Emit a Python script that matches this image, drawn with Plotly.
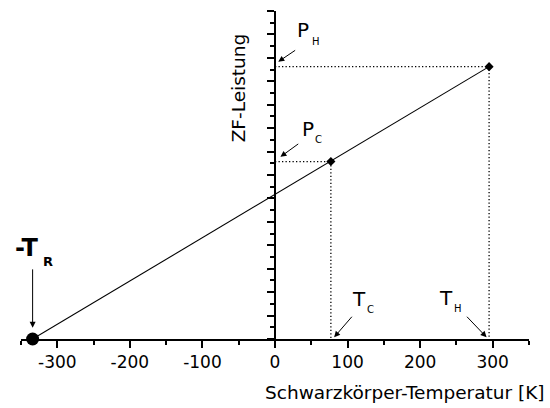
import plotly.graph_objects as go

# ---------------- data ----------------
T_R = 334          # receiver noise temperature (K) -> intercept at -T_R
T_C = 77           # cold load temperature (K)
T_H = 295          # hot load temperature (K)
P_C = 15.15        # IF power at cold load (arb. units)
P_H = 23.25        # IF power at hot load (arb. units)

line_x = [-T_R, T_C, T_H]
line_y = [0, P_C, P_H]

x_tick_values = [-300, -200, -100, 0, 100, 200, 300]
x_tick_labels = ["-300", "-200", "-100", "0", "100", "200", "300"]

x_title = "Schwarzkörper-Temperatur [K]"
y_title = "ZF-Leistung"

# ---------------- layout helpers ----------------
L, R, T, B = 21, 21, 11, 68.7
W, H = 550, 408
PW, PH = W - L - R, H - T - B
FONT = "DejaVu Sans"


def px(xp):
    return (xp - L) / PW


def py(yp):
    return (H - B - yp) / PH


fig = go.Figure()

dot = dict(color="black", width=1.3, dash="1.3px,2.2px")
# dotted guide lines
for tx, pv in [(T_C, P_C), (T_H, P_H)]:
    fig.add_trace(go.Scatter(x=[0, tx, tx], y=[pv, pv, 0], mode="lines",
                             line=dot, hoverinfo="skip", showlegend=False,
                             cliponaxis=False))

# main line
fig.add_trace(go.Scatter(x=line_x, y=line_y, mode="lines",
                         line=dict(color="black", width=1.1),
                         showlegend=False, cliponaxis=False))
# diamonds
fig.add_trace(go.Scatter(x=line_x[1:], y=line_y[1:], mode="markers",
                         marker=dict(symbol="diamond", size=7, color="black"),
                         showlegend=False, cliponaxis=False))
# -T_R point
fig.add_trace(go.Scatter(x=[line_x[0]], y=[line_y[0]], mode="markers",
                         marker=dict(symbol="circle", size=13, color="black"),
                         showlegend=False, cliponaxis=False))

ann = []


def label(text, xp, yp, size, bold=False):
    ann.append(dict(text=("<b>%s</b>" % text) if bold else text,
                    x=px(xp), y=py(yp), xref="paper", yref="paper",
                    xanchor="center", yanchor="middle", showarrow=False,
                    font=dict(family=FONT, size=size, color="black")))


def arrow(x, y, ax, ay):
    ann.append(dict(text="", x=x, y=y, xref="x", yref="y", ax=ax, ay=ay,
                    showarrow=True, arrowhead=2, arrowsize=1.2, arrowwidth=1,
                    arrowcolor="black", standoff=0, startstandoff=0))


# P_H
label("P", 302.5, 30.5, 20)
label("H", 316.3, 41.7, 10)
arrow(4.5, P_H + 0.42, 18.4, -12.4)
# P_C
label("P", 307.5, 129.5, 20)
label("C", 318.3, 140, 10)
arrow(7.5, P_C + 0.4, 19.3, -14)
# T_C
label("T", 358.5, 298.8, 20)
label("C", 370, 309.7, 10)
arrow(T_C + 4.5, 0.15, 19, -22)
# T_H
label("T", 445.8, 298.3, 20)
label("H", 457.5, 308.8, 10)
arrow(T_H - 3.5, 0.15, -21, -22)
# -T_R
label("-T", 26.7, 247.8, 24, bold=True)
label("R", 48, 261.3, 13, bold=True)
arrow(-T_R, 0.95, 0, -60)

# axis titles
ann.append(dict(text=x_title, x=px(547), y=py(393), xref="paper", yref="paper",
                xanchor="right", yanchor="middle", showarrow=False,
                font=dict(family=FONT, size=18.5, color="black")))
ann.append(dict(text=y_title, x=px(238.7), y=py(87.7), xref="paper", yref="paper",
                xanchor="center", yanchor="middle", showarrow=False, textangle=-90,
                font=dict(family=FONT, size=18.5, color="black")))

fig.update_layout(
    width=W, height=H, autosize=False,
    margin=dict(l=L, r=R, t=T, b=B, pad=0),
    paper_bgcolor="white", plot_bgcolor="white",
    showlegend=False,
    annotations=ann,
    font=dict(family=FONT, color="black"),
    xaxis=dict(range=[-350, 350], showgrid=False, zeroline=False,
               showline=True, linecolor="black", linewidth=2,
               tickvals=x_tick_values, ticktext=x_tick_labels,
               ticks="outside", ticklen=7, tickwidth=1.5, tickcolor="black",
               tickfont=dict(family=FONT, size=17, color="black"),
               minor=dict(dtick=50, tick0=0, ticks="outside", ticklen=4,
                          tickwidth=1.5, tickcolor="black")),
    yaxis=dict(range=[0, 28], showgrid=False, zeroline=False,
               anchor="free", position=0.5,
               showline=True, linecolor="black", linewidth=2,
               showticklabels=False, dtick=2, tick0=0,
               ticks="outside", ticklen=7, tickwidth=1.5, tickcolor="black",
               minor=dict(dtick=1, ticks="outside", ticklen=4,
                          tickwidth=1.5, tickcolor="black")),
)

fig.write_html("out.html")
